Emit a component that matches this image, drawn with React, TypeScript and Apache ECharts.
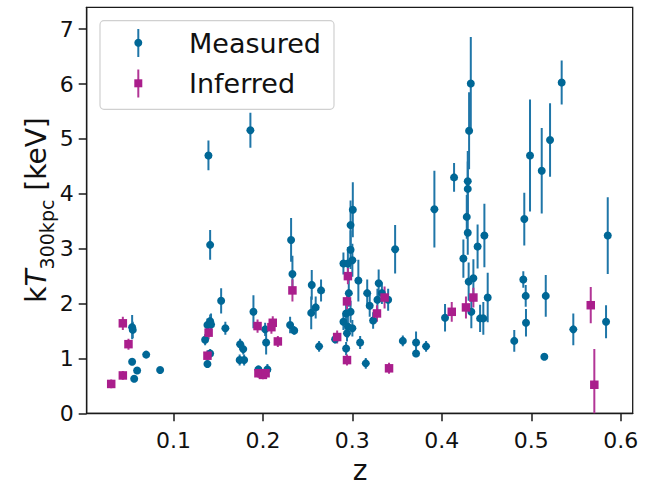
import React, { useEffect, useRef } from "react";
import * as echarts from "echarts";

// Measured clusters: redshift, kT (keV), symmetric 1-sigma error
const measuredZ = [
  0.0538, 0.0545, 0.0538, 0.0561, 0.0594, 0.0695, 0.0851, 0.1391, 0.141, 0.186,
  0.1533, 0.158, 0.138, 0.141, 0.1354, 0.141, 0.138, 0.142, 0.1894, 0.1745,
  0.178, 0.174, 0.179, 0.2025, 0.2036, 0.205, 0.195, 0.2315, 0.233, 0.2304,
  0.235, 0.2546, 0.254, 0.259, 0.265, 0.2628, 0.2807, 0.3005, 0.298, 0.298,
  0.29, 0.3, 0.295, 0.3067, 0.296, 0.293, 0.298, 0.29, 0.295, 0.3,
  0.294, 0.293, 0.3087, 0.315, 0.3166, 0.3194, 0.3232, 0.3294, 0.328, 0.333,
  0.34, 0.3478, 0.3564, 0.3712, 0.3712, 0.3824, 0.3917, 0.4036, 0.4137, 0.4324,
  0.4305, 0.429, 0.429, 0.4279, 0.429, 0.4241, 0.43, 0.4353, 0.433, 0.44,
  0.4476, 0.4428, 0.4464, 0.4513, 0.481, 0.4922, 0.4911, 0.4938, 0.4941, 0.4986,
  0.5117, 0.521, 0.5162, 0.5146, 0.534, 0.547, 0.5855, 0.5836,
];
const measuredT = [
  1.57, 1.52, 0.94, 0.63, 0.78, 1.07, 0.79, 4.7, 3.07, 5.16,
  2.05, 1.55, 1.61, 1.68, 1.34, 1.09, 0.9, 1.62, 1.85, 1.26,
  1.17, 0.97, 0.97, 1.53, 1.29, 0.8, 0.8, 3.16, 2.54, 1.61,
  1.51, 2.34, 1.83, 1.93, 2.24, 1.22, 1.35, 3.71, 3.43, 2.98,
  2.73, 2.79, 2.73, 2.42, 2.19, 1.82, 1.85, 1.67, 1.58, 1.55,
  1.46, 1.18, 1.29, 0.91, 2.19, 1.96, 1.69, 2.37, 2.07, 2.19,
  2.07, 2.99, 1.32, 1.29, 1.09, 1.22, 3.72, 1.74, 4.3, 6.01,
  5.15, 4.23, 4.09, 3.58, 3.29, 2.82, 2.4, 2.46, 1.85, 3.04,
  3.24, 1.73, 1.73, 2.11, 1.32, 3.54, 2.44, 2.14, 1.65, 4.7,
  4.42, 4.98, 2.14, 1.03, 6.03, 1.53, 3.24, 1.67,
];
const measuredErr = [
  0.22, 0.15, 0.05, 0.05, 0.06, 0.05, 0.04, 0.27, 0.27, 0.32,
  0.23, 0.12, 0.12, 0.12, 0.1, 0.08, 0.07, 0.2, 0.3, 0.1,
  0.1, 0.1, 0.1, 0.12, 0.22, 0.1, 0.06, 0.4, 0.33, 0.15,
  0.08, 0.27, 0.3, 0.2, 0.2, 0.1, 0.08, 0.5, 0.45, 0.35,
  0.2, 0.3, 0.3, 0.38, 0.25, 0.25, 0.2, 0.15, 0.2, 0.15,
  0.15, 0.12, 0.12, 0.1, 0.25, 0.2, 0.15, 0.25, 0.2, 0.2,
  0.2, 0.44, 0.1, 0.2, 0.06, 0.1, 0.7, 0.25, 0.26, 0.85,
  0.7, 0.55, 0.5, 0.4, 0.4, 0.35, 0.35, 0.35, 0.3, 0.4,
  0.58, 0.25, 0.3, 0.45, 0.2, 0.48, 0.15, 0.2, 0.25, 1.02,
  0.78, 0.67, 0.38, 0.05, 0.4, 0.29, 0.7, 0.3,
];

// Inferred clusters
const inferredZ = [
  0.0304, 0.0434, 0.0434, 0.0497, 0.1393, 0.138, 0.194, 0.211, 0.2095, 0.2167,
  0.195, 0.2, 0.203, 0.233, 0.283, 0.295, 0.294, 0.294, 0.3275, 0.336,
  0.341, 0.4111, 0.427, 0.4353, 0.5665, 0.5705,
];
const inferredT = [
  0.535, 0.69, 1.64, 1.26, 1.47, 1.05, 1.59, 1.65, 1.57, 1.31,
  0.73, 0.7, 0.73, 2.24, 1.39, 2.5, 2.04, 0.97, 1.82, 2.11,
  0.82, 1.85, 1.93, 2.11, 1.97, 0.52,
];
const inferredErr = [
  0.08, 0.08, 0.12, 0.1, 0.12, 0.1, 0.12, 0.12, 0.12, 0.1,
  0.08, 0.08, 0.08, 0.2, 0.12, 0.15, 0.15, 0.1, 0.15, 0.2,
  0.1, 0.18, 0.2, 0.18, 0.33, 0.65,
];

const xTicks = [0.1, 0.2, 0.3, 0.4, 0.5, 0.6];
const yTicks = [0, 1, 2, 3, 4, 5, 6, 7];

const BLUE = "#006796";
const BLUE_BAR = "#1f76a8";
const MAGENTA = "#aa1e8c";
const MAGENTA_BAR = "#b23596";
const FONT = "DejaVu Sans";

function errSeries(zs: number[], ts: number[], es: number[], color: string) {
  return {
    type: "custom",
    clip: true,
    encode: { x: 0, y: [1, 2, 3] },
    data: zs.map((z, i) => [z, ts[i], ts[i] - es[i], ts[i] + es[i]]),
    renderItem: (params: any, api: any) => {
      const x = api.value(0);
      const p1 = api.coord([x, api.value(2)]);
      const p2 = api.coord([x, api.value(3)]);
      return {
        type: "line",
        shape: { x1: p1[0], y1: p1[1], x2: p2[0], y2: p2[1] },
        style: { stroke: color, lineWidth: 2 },
      };
    },
    z: 2,
  };
}

export default function App() {
  const ref = useRef<HTMLDivElement>(null);
  useEffect(() => {
    if (!ref.current) return;
    const chart = echarts.init(ref.current, null, { renderer: "svg" });
    const axisCommon = {
      type: "value",
      axisLine: { show: true, lineStyle: { color: "#1a1a1a", width: 1.3 } },
      axisTick: { show: true, inside: false, length: 8, lineStyle: { color: "#1a1a1a", width: 1.5 } },
      splitLine: { show: false },
    };
    chart.setOption({
      animation: false,
      backgroundColor: "#ffffff",
      grid: {
        left: 86.7,
        right: 665 - 632.7,
        top: 7.3,
        bottom: 487 - 413.3,
        show: true,
        borderColor: "#1a1a1a",
        borderWidth: 1.3,
        backgroundColor: "transparent",
      },
      xAxis: {
        ...axisCommon,
        min: 0.003,
        max: 0.6134,
        axisTick: { ...axisCommon.axisTick, customValues: xTicks },
        axisLabel: {
          customValues: xTicks,
          formatter: (v: number) => v.toFixed(1),
          fontFamily: FONT,
          fontSize: 22,
          color: "#111",
          margin: 16,
        },
      },
      yAxis: {
        ...axisCommon,
        min: 0,
        max: 7.4,
        axisTick: { ...axisCommon.axisTick, customValues: yTicks },
        axisLabel: {
          customValues: yTicks,
          formatter: (v: number) => String(v),
          fontFamily: FONT,
          fontSize: 22,
          color: "#111",
          margin: 13,
        },
      },
      series: [
        errSeries(measuredZ, measuredT, measuredErr, BLUE_BAR),
        {
          type: "scatter",
          symbol: "circle",
          symbolSize: 8,
          itemStyle: { color: BLUE, opacity: 1 },
          data: measuredZ.map((z, i) => [z, measuredT[i]]),
          z: 3,
        },
        errSeries(inferredZ, inferredT, inferredErr, MAGENTA_BAR),
        {
          type: "scatter",
          symbol: "rect",
          symbolSize: 8.5,
          itemStyle: { color: MAGENTA, opacity: 1 },
          data: inferredZ.map((z, i) => [z, inferredT[i]]),
          z: 4,
        },
      ],
      graphic: [
        {
          type: "text",
          x: 36,
          y: 210,
          rotation: Math.PI / 2,
          style: {
            text: "{n|k}{i|T}{s|300kpc}{n| [keV]}",
            align: "center",
            verticalAlign: "middle",
            fill: "#111",
            rich: {
              n: { fontFamily: FONT, fontSize: 28, lineHeight: 40, verticalAlign: "middle", fill: "#111" },
              i: { fontFamily: FONT, fontSize: 28, fontStyle: "italic", lineHeight: 40, verticalAlign: "middle", fill: "#111" },
              s: { fontFamily: FONT, fontSize: 19, lineHeight: 22, verticalAlign: "bottom", fill: "#111" },
            },
          },
        },
        {
          type: "text",
          x: 360,
          y: 470,
          style: {
            text: "z",
            fontFamily: FONT,
            fontSize: 28,
            lineHeight: 28,
            align: "center",
            verticalAlign: "middle",
            fill: "#111",
          },
        },
        {
          type: "group",
          z: 10,
          children: [
            {
              type: "rect",
              shape: { x: 100, y: 20.7, width: 234, height: 88.6, r: 4 },
              style: { fill: "rgba(255,255,255,0.8)", stroke: "#d0d0d0", lineWidth: 1.2 },
            },
            { type: "line", shape: { x1: 138.3, y1: 29, x2: 138.3, y2: 57 }, style: { stroke: BLUE_BAR, lineWidth: 2 } },
            { type: "circle", shape: { cx: 138.3, cy: 42.7, r: 4 }, style: { fill: BLUE } },
            { type: "line", shape: { x1: 138.3, y1: 69.5, x2: 138.3, y2: 97.5 }, style: { stroke: MAGENTA_BAR, lineWidth: 2 } },
            { type: "rect", shape: { x: 134.3, y: 79.3, width: 8, height: 8 }, style: { fill: MAGENTA } },
            {
              type: "text",
              x: 189,
              y: 43,
              style: { text: "Measured", fontFamily: FONT, fontSize: 27, verticalAlign: "middle", fill: "#111" },
            },
            {
              type: "text",
              x: 189,
              y: 83.5,
              style: { text: "Inferred", fontFamily: FONT, fontSize: 27, verticalAlign: "middle", fill: "#111" },
            },
          ],
        },
      ],
    });
    return () => chart.dispose();
  }, []);
  return (
    <div
      ref={ref}
      style={{ position: "fixed", left: 0, top: 0, width: 665, height: 487, background: "#fff" }}
    />
  );
}
